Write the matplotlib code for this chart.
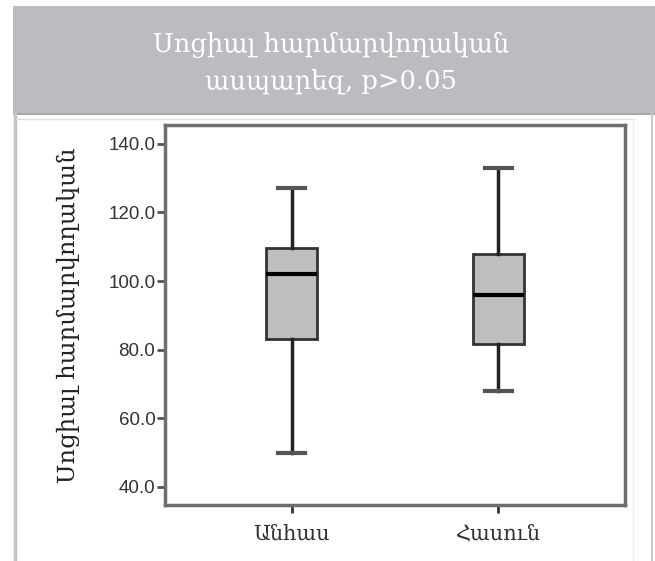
import matplotlib
matplotlib.use("Agg")
import matplotlib.pyplot as plt
from matplotlib.patches import Rectangle
from matplotlib.lines import Line2D

# box statistics
groups = ["Անհաս", "Հասուն"]
whislo = [50.0, 68.0]
q1 = [83.0, 81.5]
med = [102.0, 96.0]
q3 = [109.7, 108.0]
whishi = [127.0, 133.0]

title = "Սոցիալ հարմարվողական\nասպարեզ, p>0.05"
ylabel = "Սոցիալ հարմարվողական"
yticks = [40, 60, 80, 100, 120, 140]

arm = ["DejaVu Serif", "DejaVu Sans"]

fig = plt.figure(figsize=(6.55, 5.61), dpi=100)
W, H = 655, 561

def px(x0, y0, x1, y1):
    # pixel box (top-left origin) -> figure fraction rect
    return (x0 / W, 1 - y1 / H, (x1 - x0) / W, (y1 - y0) / H)

# gray header band and panel frame
x, y, w, h = px(13, 6, 655, 113)
fig.patches.append(Rectangle((x, y), w, h, transform=fig.transFigure,
                             facecolor="#bbbcbf", edgecolor="none"))
x, y, w, h = px(13, 113, 655, 115)
fig.patches.append(Rectangle((x, y), w, h, transform=fig.transFigure,
                             facecolor="#a9aaad", edgecolor="none"))
fig.lines.append(Line2D([14.5 / W, 14.5 / W], [1 - 113 / H, 0], transform=fig.transFigure,
                        color="#c4c4c6", lw=2.5))
fig.lines.append(Line2D([652 / W, 652 / W], [1 - 113 / H, 0], transform=fig.transFigure,
                        color="#c8c8ca", lw=1.5))
fig.lines.append(Line2D([16 / W, 634 / W], [1 - 119 / H, 1 - 119 / H], transform=fig.transFigure,
                        color="#dcdcdc", lw=1.0))
fig.lines.append(Line2D([633 / W, 633 / W], [1 - 119 / H, 0], transform=fig.transFigure,
                        color="#ececec", lw=1.0))

fig.text(331 / W, 1 - 63 / H, title, ha="center", va="center", color="white",
         family=arm, fontsize=18.5, linespacing=1.55)

ax = fig.add_axes(px(165, 125, 625, 505))

stats = []
for i, g in enumerate(groups):
    stats.append({"label": g, "whislo": whislo[i], "q1": q1[i], "med": med[i],
                  "q3": q3[i], "whishi": whishi[i], "fliers": []})

ax.bxp(stats, positions=[1, 2], widths=0.25, capwidths=0.13, patch_artist=True,
       showfliers=False,
       boxprops=dict(facecolor="#bebebe", edgecolor="#333333", linewidth=2),
       medianprops=dict(color="black", linewidth=3),
       whiskerprops=dict(color="#222222", linewidth=2.5),
       capprops=dict(color="#555555", linewidth=3))

ax.set_xlim(0.388, 2.612)
ax.set_ylim(34.7, 145.5)
ax.set_yticks(yticks)
ax.set_yticklabels([f"{v:.1f}" for v in yticks], family="Liberation Sans",
                   fontsize=13.5, color="#333333")
ax.set_xticks([1, 2])
ax.set_xticklabels(groups, family=arm, fontsize=15, color="#333333")
ax.tick_params(axis="y", direction="out", length=6, width=2, color="#555555", pad=1)
ax.tick_params(axis="x", direction="out", length=6, width=2, color="#333333", pad=8)
for s in ax.spines.values():
    s.set_color("#6e6e6e")
    s.set_linewidth(2.5)

ax.set_ylabel(ylabel, family=arm, fontsize=17.5, color="#222222", labelpad=20)

fig.savefig("out.png", dpi=100)
